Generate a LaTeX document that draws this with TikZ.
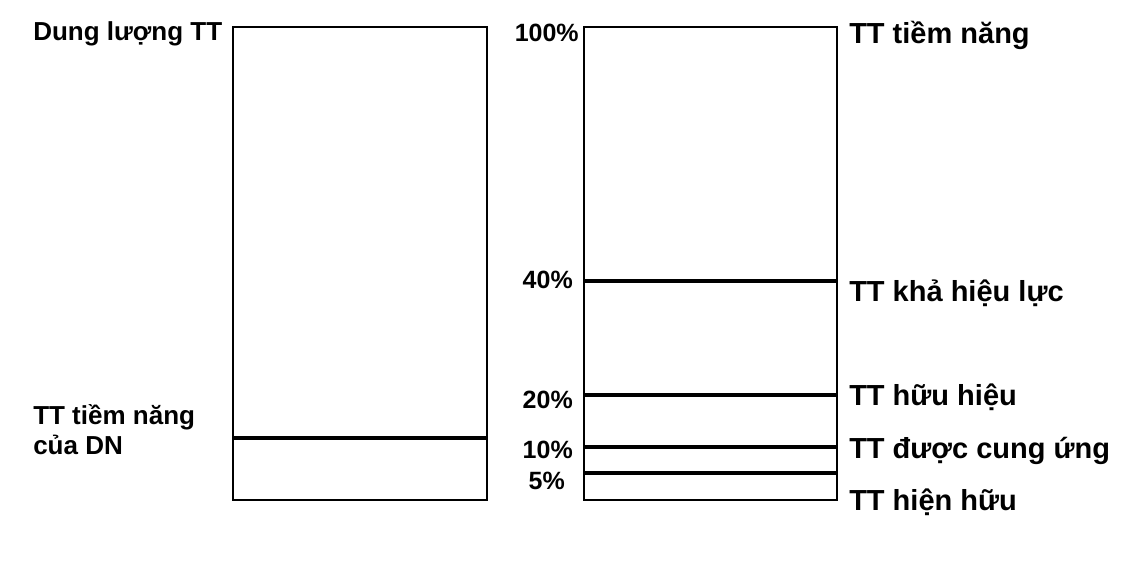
\documentclass[tikz,border=0pt]{standalone}
\usepackage{fontspec}
\setmainfont{Liberation Sans}
\begin{document}
\begin{tikzpicture}[
  x=0.75pt,y=-0.75pt,
  lbl/.style={font=\fontsize{19.5}{22.5}\selectfont\bfseries, inner sep=0pt, align=left, anchor=base west},
  pct/.style={font=\fontsize{18.75}{21}\selectfont\bfseries, inner sep=0pt, anchor=base east},
  mkt/.style={font=\fontsize{21.75}{25}\selectfont\bfseries, inner sep=0pt, anchor=base west},
  bar/.style={draw, line width=0.9pt},
  cut/.style={line width=2.6pt},
]
\useasboundingbox (0,0) rectangle (1140,579);
% left column
\draw[bar] (233,27) rectangle (487,500);
\draw[cut] (233,438) -- (487,438);
\node[lbl] (cap) at (33,40.7) {Dung lượng TT};
\node[lbl] (firm) at (33,454) {TT tiềm năng\\của DN};
% right column
\draw[bar] (584,27) rectangle (837,500);
\node[pct] (p100) at (579,41.7) {100\%};
\node[mkt] (m100) at (849,43.3) {TT tiềm năng};
\foreach \y/\px/\py/\ty/\p/\t in {281/573/288/301.7/40/{TT khả hiệu lực},
  395/573/408/405.7/20/{TT hữu hiệu},
  447/573/458/458/10/{TT được cung ứng},
  473/565/489/510/5/{TT hiện hữu}}
 {\draw[cut] (584,\y) -- (837,\y);
  \node[pct] (p\p) at (\px,\py) {\p\%};
  \node[mkt] (m\p) at (849,\ty) {\t};}
\end{tikzpicture}
\end{document}
